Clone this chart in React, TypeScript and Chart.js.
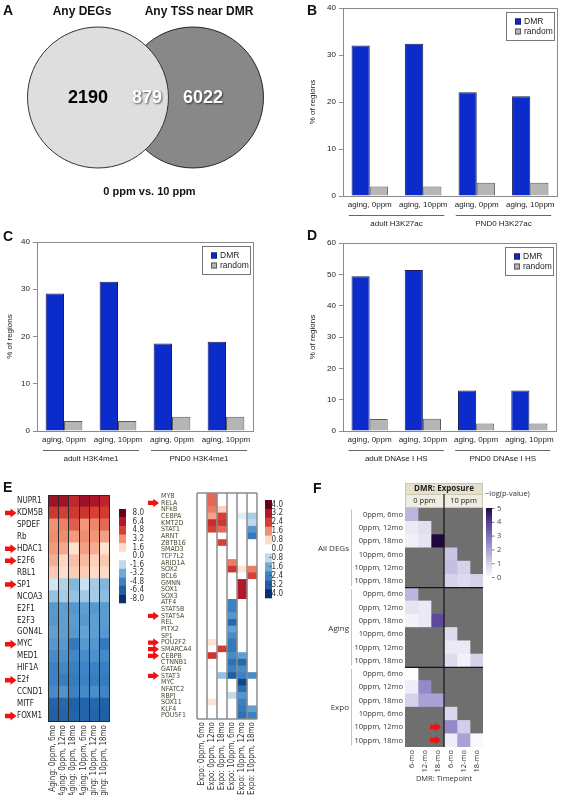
import React, { useEffect, useRef } from 'react';
import { Chart, registerables } from 'chart.js';

Chart.register(...registerables);

const SANS = "'Liberation Sans', Arial, sans-serif";
const NARROW = "'Liberation Sans Narrow', 'DejaVu Sans Condensed', 'Liberation Sans', sans-serif";
const UI = "'Open Sans', 'Noto Sans', sans-serif";

// ---------------- Panel A (Venn) ----------------
const vennSetNames = ['Any DEGs', 'Any TSS near DMR'];
const vennCounts = [2190, 879, 6022];
const vennCaption = '0 ppm vs. 10 ppm';

// ---------------- Panels B-D (bars) ----------------
const barCategories = ['aging, 0ppm', 'aging, 10ppm', 'aging, 0ppm', 'aging, 10ppm'];
const barSeries = ['DMR', 'random'];
const yAxisTitle = '% of regions';

const h3k27acGroups = ['adult H3K27ac', 'PND0 H3K27ac'];
const h3k27acDMR = [32.0, 32.4, 22.1, 21.2];
const h3k27acRandom = [2.0, 2.0, 2.8, 2.8];
const h3k27acTicks = [0, 10, 20, 30, 40];

const h3k4me1Groups = ['adult H3K4me1', 'PND0 H3K4me1'];
const h3k4me1DMR = [29.1, 31.6, 18.5, 18.9];
const h3k4me1Random = [2.1, 2.1, 3.0, 3.0];
const h3k4me1Ticks = [0, 10, 20, 30, 40];

const dnaseGroups = ['adult DNAse I HS', 'PND0 DNAse I HS'];
const dnaseDMR = [49.4, 51.4, 12.9, 12.9];
const dnaseRandom = [3.8, 3.9, 2.4, 2.4];
const dnaseTicks = [0, 10, 20, 30, 40, 50, 60];

// ---------------- Panel E (left heatmap) ----------------
const agingGenes = ['NUPR1', 'KDM5B', 'SPDEF', 'Rb', 'HDAC1', 'E2F6', 'RBL1', 'SP1', 'NCOA3', 'E2F1', 'E2F3', 'GON4L', 'MYC', 'MED1', 'HIF1A', 'E2f', 'CCND1', 'MITF', 'FOXM1'];
const agingCols = ['Aging: 0ppm, 6mo', 'Aging: 0ppm, 12mo', 'Aging: 0ppm, 18mo', 'Aging: 10ppm, 6mo', 'Aging: 10ppm, 12mo', 'Aging: 10ppm, 18mo'];
const agingValues = [
  [6.8, 6.8, 5.8, 6.9, 6.6, 5.9],
  [5.2, 4.9, 5.1, 5.3, 4.8, 5.0],
  [3.2, 3.5, 4.2, 3.1, 3.4, 4.0],
  [3.3, 3.3, 3.0, 3.3, 3.1, 2.9],
  [3.0, 2.7, 1.4, 2.9, 2.6, 1.3],
  [2.6, 1.7, 2.2, 2.3, 1.8, 2.0],
  [2.0, 1.5, 1.9, 1.9, 1.6, 1.6],
  [-1.1, -1.9, -2.8, -1.3, -2.1, -2.8],
  [-2.4, -2.1, -2.4, -2.2, -2.1, -2.6],
  [-3.9, -3.7, -4.0, -3.7, -3.9, -3.8],
  [-3.9, -3.7, -3.8, -3.9, -3.7, -3.8],
  [-3.6, -3.7, -3.9, -3.5, -3.7, -3.9],
  [-3.9, -3.9, -5.2, -3.9, -4.0, -5.2],
  [-4.4, -4.2, -4.6, -4.4, -4.2, -4.5],
  [-4.8, -4.6, -4.9, -4.7, -4.8, -4.9],
  [-4.8, -5.0, -5.1, -4.8, -5.0, -5.1],
  [-4.4, -4.1, -4.8, -4.5, -4.3, -4.7],
  [-6.2, -6.0, -6.3, -6.2, -6.0, -6.3],
  [-6.4, -6.2, -6.2, -6.2, -6.2, -6.4],
];
const agingArrowGenes = ['KDM5B', 'HDAC1', 'E2F6', 'SP1', 'MYC', 'E2f', 'FOXM1'];
const agingScaleTicks = [8.0, 6.4, 4.8, 3.2, 1.6, 0.0, -1.6, -3.2, -4.8, -6.4, -8.0];

// ---------------- Panel E (middle heatmap) ----------------
const expoGenes = ['MYB', 'RELA', 'NFkB', 'CEBPA', 'KMT2D', 'STAT1', 'ARNT', 'ZBTB16', 'SMAD3', 'TCF7L2', 'ARID1A', 'SOX2', 'BCL6', 'GMNN', 'SOX1', 'SOX3', 'ATF4', 'STAT5B', 'STAT5A', 'REL', 'PITX2', 'SP1', 'POU2F2', 'SMARCA4', 'CEBPB', 'CTNNB1', 'GATA6', 'STAT3', 'MYC', 'NFATC2', 'RBPJ', 'SOX11', 'KLF4', 'POU5F1'];
const expoCols = ['Expo: 0ppm, 6mo', 'Expo: 0ppm, 12mo', 'Expo: 0ppm, 18mo', 'Expo: 10ppm, 6mo', 'Expo: 10ppm, 12mo', 'Expo: 10ppm, 18mo'];
const expoValues = [
  [0, 2.0, 0, 0, 0, 0],
  [0, 2.0, 0, 0, 0, 0],
  [0, 1.8, 0.9, 0, 0, 0],
  [0, 1.4, 2.4, 0, -0.4, -1.0],
  [0, 2.8, 2.6, 0, 0, -0.8],
  [0, 2.4, 2.0, 0, 0, -2.0],
  [0, 0, 0, 0, 0, -2.6],
  [0, 0, 2.4, 0, 0, 0],
  [0, 0, 0, 0, 0, 0],
  [0, 0, 0, 0, 0, 0],
  [0, 0, 0, 1.8, 0, 0],
  [0, 0, 0, 2.6, 0.6, 1.8],
  [0, 0, 0, 0, 0, 2.4],
  [0, 0, 0, 0, 3.2, 0],
  [0, 0, 0, 0, 3.2, 0],
  [0, 0, 0, 0, 3.2, 0],
  [0, 0, 0, -2.4, 0, 0],
  [0, 0, 0, -2.4, 0, 0],
  [0, 0, 0, -2.0, 0, 0],
  [0, 0, 0, -3.0, 0, 0],
  [0, 0, 0, -1.8, 0, 0],
  [0, 0, 0, -2.2, 0, 0],
  [0, 0.6, 0, -2.6, 0, 0],
  [0, 0, 2.5, -2.6, 0, 0],
  [0, 2.6, 0, -2.2, -1.8, 0],
  [0, 0, 0, -2.8, -3.0, 0],
  [0, 0, 0, -2.4, -2.2, 0],
  [0, 0, -1.2, -3.2, -2.4, -2.2],
  [0, 0, 0, 0, -3.6, 0],
  [0, 0, 0, 0, -2.8, 0],
  [0, 0, 0, -0.8, -2.0, 0],
  [0, 0.6, 0, 0, -2.4, 0],
  [0, 0, 0, 0, -2.6, -1.8],
  [0, 0, 0, 0, -2.8, -2.4],
];
const expoArrowGenes = ['RELA', 'STAT5A', 'POU2F2', 'SMARCA4', 'CEBPB', 'STAT3'];
const expoScaleTicks = [4.0, 3.2, 2.4, 1.6, 0.8, 0.0, -0.8, -1.6, -2.4, -3.2, -4.0];

// ---------------- Panel F ----------------
const fGroups = ['All DEGs', 'Aging', 'Expo'];
const fRowNames = ['0ppm, 6mo', '0ppm, 12mo', '0ppm, 18mo', '10ppm, 6mo', '10ppm, 12mo', '10ppm, 18mo'];
const fRows = [...fRowNames, ...fRowNames, ...fRowNames];
const fCols = ['6-mo', '12-mo', '18-mo', '6-mo', '12-mo', '18-mo'];
const fExposures = ['0 ppm', '10 ppm'];
const fHeader = 'DMR: Exposure';
const fXTitle = 'DMR: Timepoint';
const fLegendTitle = '\u2212log(p-value)';
const fScaleTicks = [5, 4, 3, 2, 1, 0];
const N = null;
const fValues = [
  [1.6, N, N, N, N, N],
  [0.5, 0.7, N, N, N, N],
  [0.35, 0.6, 5.0, N, N, N],
  [N, N, N, 1.3, N, N],
  [N, N, N, 1.4, 1.0, N],
  [N, N, N, 1.0, 0.8, 1.0],
  [1.6, N, N, N, N, N],
  [0.6, 0.5, N, N, N, N],
  [0.3, 0.5, 3.8, N, N, N],
  [N, N, N, 0.8, N, N],
  [N, N, N, 0.5, 0.5, N],
  [N, N, N, 0.8, 0.3, 1.0],
  [0.05, N, N, N, N, N],
  [0.4, 2.5, N, N, N, N],
  [1.0, 2.0, 2.0, N, N, N],
  [N, N, N, 0.9, N, N],
  [N, N, N, 2.5, 1.1, N],
  [N, N, N, 0.4, 2.0, 0.15],
];
const fArrowCells = [[16, 2], [17, 2]];

// ---------------- colour helpers ----------------
type RGB = number[];
const rgb = (c: RGB) => `rgb(${Math.round(c[0])},${Math.round(c[1])},${Math.round(c[2])})`;
function ramp(stops: [number, RGB][], v: number): string {
  if (v <= stops[0][0]) return rgb(stops[0][1]);
  for (let i = 1; i < stops.length; i++) {
    if (v <= stops[i][0]) {
      const [v0, c0] = stops[i - 1];
      const [v1, c1] = stops[i];
      const t = (v - v0) / (v1 - v0);
      return rgb(c0.map((c, k) => c + (c1[k] - c) * t));
    }
  }
  return rgb(stops[stops.length - 1][1]);
}
const RDBU: [number, RGB][] = [
  [-1, [8, 48, 107]], [-0.8, [30, 95, 165]], [-0.6, [58, 130, 195]], [-0.4, [110, 170, 214]],
  [-0.2, [190, 218, 235]], [0, [255, 255, 255]], [0.2, [253, 219, 199]], [0.4, [240, 145, 115]],
  [0.6, [214, 64, 52]], [0.8, [178, 24, 43]], [1, [103, 0, 31]],
];
const PURPLES: [number, RGB][] = [
  [0, [255, 255, 255]], [1, [214, 210, 234]], [2, [170, 162, 212]], [3, [128, 112, 186]], [4, [84, 62, 148]], [5, [32, 8, 62]],
];
const agingColor = (v: number) => ramp(RDBU, v / 8);
const expoColor = (v: number) => ramp(RDBU, v / 4);
const fColor = (v: number | null) => (v == null ? '#6f6f6f' : ramp(PURPLES, v));

const BLUE = '#0b2ccb';
const RGRAY = '#b5b5b5';

function drawArrow(ctx: CanvasRenderingContext2D, x: number, cy: number, w: number, h: number) {
  const bh = h * 0.5;
  const hx = x + w * 0.48;
  ctx.fillStyle = '#f01212';
  ctx.beginPath();
  ctx.moveTo(x, cy - bh / 2);
  ctx.lineTo(hx, cy - bh / 2);
  ctx.lineTo(hx, cy - h / 2);
  ctx.lineTo(x + w, cy);
  ctx.lineTo(hx, cy + h / 2);
  ctx.lineTo(hx, cy + bh / 2);
  ctx.lineTo(x, cy + bh / 2);
  ctx.closePath();
  ctx.fill();
}

function drawStepBar(ctx: CanvasRenderingContext2D, x: number, y: number, w: number, h: number, ticks: number[], color: (v: number) => string, labelX: number) {
  const n = ticks.length;
  const bh = h / n;
  ticks.forEach((t, i) => {
    ctx.fillStyle = color(t);
    ctx.fillRect(x, y + i * bh, w, bh + 0.3);
  });
  ctx.fillStyle = '#333';
  ctx.font = `8px ${NARROW}`;
  ctx.textAlign = 'right';
  ctx.textBaseline = 'middle';
  ticks.forEach((t, i) => ctx.fillText(t.toFixed(1), labelX, y + (i + 0.5) * bh));
}

// ---------------- generic canvas ----------------
function ChartBox({ left, top, w, h, make }: { left: number; top: number; w: number; h: number; make: () => any }) {
  const ref = useRef<HTMLCanvasElement | null>(null);
  useEffect(() => {
    if (!ref.current) return;
    const chart = new Chart(ref.current, make());
    return () => chart.destroy();
  }, []);
  return <canvas ref={ref} width={w} height={h} style={{ position: 'absolute', left, top, width: w, height: h }} />;
}

// ---------------- Venn ----------------
const VENN_OFF = 0.674;
function vennConfig() {
  const radius = (c: any) => {
    const s = c.chart.scales.x;
    return s ? Math.abs(s.getPixelForValue(1) - s.getPixelForValue(0)) : 70;
  };
  const blend = {
    id: 'blend',
    beforeDatasetDraw(chart: any, args: any) {
      if (args.index === 1) { chart.ctx.save(); chart.ctx.globalCompositeOperation = 'multiply'; }
    },
    afterDatasetDraw(chart: any, args: any) {
      if (args.index === 1) chart.ctx.restore();
    },
  };
  const text = {
    id: 'vennText',
    afterDraw(chart: any) {
      const { ctx, scales: { x, y } } = chart;
      const lx = x.getPixelForValue(-VENN_OFF);
      const rx = x.getPixelForValue(VENN_OFF);
      const cy = y.getPixelForValue(0);
      const topY = y.getPixelForValue(1);
      const botY = y.getPixelForValue(-1);
      ctx.save();
      ctx.textAlign = 'center';
      ctx.textBaseline = 'middle';
      ctx.fillStyle = '#111';
      ctx.font = `bold 12px ${SANS}`;
      ctx.fillText(vennSetNames[0], lx - 16, topY - 15.5);
      ctx.fillText(vennSetNames[1], rx + 6, topY - 15.5);
      ctx.font = `bold 11px ${SANS}`;
      ctx.fillText(vennCaption, (lx + rx) / 2 + 4, botY + 24);
      ctx.font = `bold 18px ${SANS}`;
      ctx.fillStyle = '#000';
      ctx.fillText(String(vennCounts[0]), lx - 10, cy + 1);
      ctx.shadowColor = 'rgba(0,0,0,0.6)';
      ctx.shadowBlur = 2;
      ctx.shadowOffsetX = 1;
      ctx.shadowOffsetY = 1;
      ctx.fillStyle = '#fff';
      ctx.fillText(String(vennCounts[1]), (lx + rx) / 2 + 1.5, cy + 1);
      ctx.fillText(String(vennCounts[2]), rx + 10, cy + 1);
      ctx.restore();
    },
  };
  return {
    type: 'scatter',
    data: {
      datasets: [
        { data: [{ x: -VENN_OFF, y: 0 }], pointRadius: radius, backgroundColor: '#dedede', borderColor: '#333', borderWidth: 1, clip: false },
        { data: [{ x: VENN_OFF, y: 0 }], pointRadius: radius, backgroundColor: '#888888', borderColor: '#333', borderWidth: 1, clip: false },
      ],
    },
    options: {
      responsive: false, animation: false, devicePixelRatio: 1,
      layout: { padding: 0 },
      plugins: { legend: { display: false }, tooltip: { enabled: false } },
      scales: {
        x: { display: false, min: -2.064, max: 1.979 },
        y: { display: false, min: -1.596, max: 1.383 },
      },
    },
    plugins: [blend, text],
  };
}

// ---------------- bar panels ----------------
function barDecor(groups: string[]) {
  return {
    id: 'barDecor',
    afterDraw(chart: any) {
      const { ctx, chartArea: a, scales: { x } } = chart;
      ctx.save();
      ctx.strokeStyle = '#8a8a8a';
      ctx.lineWidth = 1;
      ctx.strokeRect(Math.round(a.left) + 0.5, Math.round(a.top) + 0.5, Math.round(a.right - a.left), Math.round(a.bottom - a.top));
      // legend
      const bx = Math.round(a.right - 51), by = Math.round(a.top + 4);
      ctx.strokeStyle = '#777';
      ctx.strokeRect(bx + 0.5, by + 0.5, 48, 28);
      chart.data.datasets.forEach((ds: any, i: number) => {
        const cy = by + 9.5 + i * 10;
        ctx.fillStyle = ds.backgroundColor;
        ctx.fillRect(bx + 9, cy - 3, 6, 6);
        ctx.strokeStyle = ds.borderColor;
        ctx.strokeRect(bx + 9.5, cy - 2.5, 5, 5);
        ctx.fillStyle = '#222';
        ctx.font = `8.5px ${SANS}`;
        ctx.textAlign = 'left';
        ctx.textBaseline = 'middle';
        ctx.fillText(ds.label, bx + 18, cy);
      });
      // groups
      groups.forEach((g, gi) => {
        const x0 = x.getPixelForValue(gi * 2) - 21;
        const x1 = x.getPixelForValue(gi * 2 + 1) + 21;
        const ly = Math.round(a.bottom + 19) + 0.5;
        ctx.strokeStyle = '#666';
        ctx.beginPath();
        ctx.moveTo(x0, ly);
        ctx.lineTo(x1, ly);
        ctx.stroke();
        ctx.fillStyle = '#222';
        ctx.font = `8px ${SANS}`;
        ctx.textAlign = 'center';
        ctx.textBaseline = 'middle';
        ctx.fillText(g, (x0 + x1) / 2, a.bottom + 28);
      });
      ctx.restore();
    },
  };
}

function barConfig(dmr: number[], rnd: number[], groups: string[], ticks: number[], pad: any, yW: number, xH: number) {
  const font = { family: SANS, size: 8 };
  const common = { borderWidth: 1, borderSkipped: 'bottom', categoryPercentage: 0.68, barPercentage: 1 };
  return {
    type: 'bar',
    data: {
      labels: barCategories,
      datasets: [
        { label: barSeries[0], data: dmr, backgroundColor: BLUE, borderColor: '#1c1c5a', ...common },
        { label: barSeries[1], data: rnd, backgroundColor: RGRAY, borderColor: '#5c5c5c', ...common },
      ],
    },
    options: {
      responsive: false, animation: false, devicePixelRatio: 1,
      layout: { padding: pad },
      plugins: { legend: { display: false }, tooltip: { enabled: false } },
      scales: {
        x: {
          grid: { display: false, drawTicks: false },
          border: { display: false },
          ticks: { font, color: '#222', padding: 4, maxRotation: 0, minRotation: 0, autoSkip: false },
          afterFit: (s: any) => { s.height = xH; },
        },
        y: {
          min: 0,
          max: ticks[ticks.length - 1],
          afterBuildTicks: (s: any) => { s.ticks = ticks.map((v) => ({ value: v })); },
          grid: { drawOnChartArea: false, drawTicks: true, tickLength: 4, color: '#8a8a8a' },
          border: { display: false },
          ticks: { font, color: '#222', padding: 3 },
          title: { display: true, text: yAxisTitle, font, color: '#222', padding: { top: 0, bottom: 0 } },
          afterFit: (s: any) => { s.width = yW; },
        },
      },
    },
    plugins: [barDecor(groups)],
  };
}

// ---------------- heatmaps ----------------
function heatConfig(o: any) {
  const datasets = o.cols.map((c: string, ci: number) => ({
    label: c,
    data: o.rows.map(() => 1),
    backgroundColor: o.rows.map((_: string, ri: number) => o.color(o.values[ri][ci])),
    borderWidth: 0,
    barPercentage: 1,
    categoryPercentage: 1,
  }));
  return {
    type: 'bar',
    data: { labels: o.rows, datasets },
    options: {
      indexAxis: 'y',
      responsive: false, animation: false, devicePixelRatio: 1,
      layout: { padding: o.pad },
      plugins: { legend: { display: false }, tooltip: { enabled: false } },
      scales: {
        x: {
          type: 'linear', stacked: true, min: 0, max: o.cols.length,
          grid: { display: false, drawTicks: false },
          border: { display: false },
          afterBuildTicks: (s: any) => { s.ticks = o.cols.map((_: string, i: number) => ({ value: i + 0.5 })); },
          ticks: { autoSkip: false, minRotation: 90, maxRotation: 90, padding: 3, font: o.colFont, color: '#333', callback: (_v: any, i: number) => o.cols[i] },
          title: o.xTitle ? { display: true, text: o.xTitle, font: o.colFont, color: '#333', padding: { top: 2, bottom: 0 } } : { display: false },
          afterFit: (s: any) => { s.height = o.xH; },
        },
        y: {
          stacked: true,
          grid: { display: false, drawTicks: false },
          border: { display: false },
          ticks: { autoSkip: false, font: o.rowFont, color: o.rowColor, padding: 2, crossAlign: o.crossAlign },
          afterFit: (s: any) => { s.width = o.yW; },
        },
      },
    },
    plugins: [o.decor],
  };
}

const agingDecor = {
  id: 'agingDecor',
  afterDraw(chart: any) {
    const { ctx, chartArea: a, scales: { x, y } } = chart;
    ctx.save();
    ctx.strokeStyle = '#2a2a2a';
    ctx.lineWidth = 1;
    ctx.beginPath();
    for (let i = 0; i <= agingCols.length; i++) {
      const px = Math.round(x.getPixelForValue(i)) + 0.5;
      ctx.moveTo(px, a.top);
      ctx.lineTo(px, a.bottom);
    }
    ctx.moveTo(a.left, Math.round(a.top) + 0.5);
    ctx.lineTo(a.right, Math.round(a.top) + 0.5);
    ctx.moveTo(a.left, Math.round(a.bottom) - 0.5);
    ctx.lineTo(a.right, Math.round(a.bottom) - 0.5);
    ctx.stroke();
    agingArrowGenes.forEach((g) => drawArrow(ctx, y.left - 12, y.getPixelForValue(agingGenes.indexOf(g)), 11.5, 9));
    drawStepBar(ctx, a.right + 10, a.top + 14, 7, 94, agingScaleTicks, agingColor, a.right + 35);
    ctx.restore();
  },
};

const expoDecor = {
  id: 'expoDecor',
  afterDraw(chart: any) {
    const { ctx, chartArea: a, scales: { x, y } } = chart;
    ctx.save();
    ctx.strokeStyle = '#8c8c8c';
    ctx.lineWidth = 1.5;
    ctx.beginPath();
    for (let i = 0; i <= expoCols.length; i++) {
      const px = x.getPixelForValue(i);
      ctx.moveTo(px, a.top);
      ctx.lineTo(px, a.bottom);
    }
    ctx.moveTo(a.left, a.top);
    ctx.lineTo(a.right, a.top);
    ctx.moveTo(a.left, a.bottom);
    ctx.lineTo(a.right, a.bottom);
    ctx.stroke();
    expoArrowGenes.forEach((g) => drawArrow(ctx, y.left - 13, y.getPixelForValue(expoGenes.indexOf(g)), 11, 8.5));
    drawStepBar(ctx, a.right + 8, a.top + 7, 7, 98, expoScaleTicks, expoColor, a.right + 26);
    ctx.restore();
  },
};

const fDecor = {
  id: 'fDecor',
  afterDraw(chart: any) {
    const { ctx, chartArea: a, scales: { x, y } } = chart;
    const n = fRows.length;
    const edge = (i: number) => (i <= 0 ? a.top : i >= n ? a.bottom : (y.getPixelForValue(i - 1) + y.getPixelForValue(i)) / 2);
    const xMid = x.getPixelForValue(3);
    const w = a.right - a.left;
    ctx.save();
    // header
    ctx.fillStyle = '#e4e0cc';
    ctx.fillRect(a.left, a.top - 25, w, 11);
    ctx.fillStyle = '#efece1';
    ctx.fillRect(a.left, a.top - 14, w, 13);
    ctx.strokeStyle = '#cdc8b2';
    ctx.lineWidth = 1;
    ctx.strokeRect(a.left + 0.5, a.top - 24.5, w - 1, 11);
    ctx.strokeRect(a.left + 0.5, a.top - 13.5, w - 1, 13);
    ctx.fillStyle = '#222';
    ctx.textAlign = 'center';
    ctx.textBaseline = 'middle';
    ctx.font = `bold 8px ${UI}`;
    ctx.fillText(fHeader, (a.left + a.right) / 2, a.top - 19);
    ctx.font = `7.5px ${UI}`;
    ctx.fillText(fExposures[0], (a.left + xMid) / 2, a.top - 7.5);
    ctx.fillText(fExposures[1], (xMid + a.right) / 2, a.top - 7.5);
    // separators
    ctx.strokeStyle = '#151515';
    ctx.lineWidth = 1.2;
    ctx.beginPath();
    ctx.moveTo(xMid, a.top - 14);
    ctx.lineTo(xMid, a.bottom);
    [6, 12].forEach((r) => {
      ctx.moveTo(a.left, edge(r));
      ctx.lineTo(a.right, edge(r));
    });
    ctx.stroke();
    // groups
    fGroups.forEach((g, gi) => {
      const y0 = edge(gi * 6), y1 = edge(gi * 6 + 6);
      ctx.strokeStyle = '#c4c4c4';
      ctx.lineWidth = 1;
      ctx.beginPath();
      ctx.moveTo(y.left - 3.5, y0 + 1.5);
      ctx.lineTo(y.left - 3.5, y1 - 1.5);
      ctx.stroke();
      ctx.fillStyle = '#333';
      ctx.font = `8px ${UI}`;
      ctx.textAlign = 'right';
      ctx.textBaseline = 'middle';
      ctx.fillText(g, y.left - 6, (y0 + y1) / 2 + 1);
    });
    // arrows
    fArrowCells.forEach(([r, c]) => drawArrow(ctx, x.getPixelForValue(c) - 1, y.getPixelForValue(r), 11, 9));
    // colour bar
    const cbx = a.right + 3, cbt = a.top, cbh = 70;
    const grad = ctx.createLinearGradient(0, cbt, 0, cbt + cbh);
    fScaleTicks.forEach((t) => grad.addColorStop((5 - t) / 5, fColor(t)));
    ctx.fillStyle = grad;
    ctx.fillRect(cbx, cbt, 6, cbh);
    ctx.strokeStyle = '#777';
    ctx.fillStyle = '#444';
    ctx.font = `7.5px ${UI}`;
    ctx.textAlign = 'left';
    fScaleTicks.forEach((t) => {
      const ty = cbt + ((5 - t) / 5) * (cbh - 1) + 0.5;
      ctx.beginPath();
      ctx.moveTo(cbx + 6, ty);
      ctx.lineTo(cbx + 8.5, ty);
      ctx.stroke();
      ctx.fillText(String(t), a.right + 14, ty);
    });
    ctx.fillStyle = '#333';
    ctx.fillText(fLegendTitle, a.right + 2, a.top - 14);
    ctx.restore();
  },
};

function Letter({ ch, x, base }: { ch: string; x: number; base: number }) {
  return (
    <div style={{ position: 'absolute', left: x, top: base - 13, fontFamily: SANS, fontWeight: 'bold', fontSize: 14, lineHeight: '16px', color: '#111' }}>{ch}</div>
  );
}

export default function App() {
  return (
    <div style={{ position: 'absolute', left: 0, top: 0, width: 561, height: 795, background: '#fff', overflow: 'hidden' }}>
      <ChartBox left={0} top={0} w={285} h={210} make={vennConfig} />
      <ChartBox left={290} top={0} w={271} h={232}
        make={() => barConfig(h3k27acDMR, h3k27acRandom, h3k27acGroups, h3k27acTicks, { left: 18, right: 4, top: 8, bottom: 0 }, 35, 36)} />
      <ChartBox left={0} top={232} w={285} h={240}
        make={() => barConfig(h3k4me1DMR, h3k4me1Random, h3k4me1Groups, h3k4me1Ticks, { left: 5, right: 32, top: 10, bottom: 0 }, 32, 41)} />
      <ChartBox left={290} top={232} w={271} h={240}
        make={() => barConfig(dnaseDMR, dnaseRandom, dnaseGroups, dnaseTicks, { left: 18, right: 5, top: 11, bottom: 0 }, 35, 41)} />
      <ChartBox left={0} top={480} w={150} h={315}
        make={() => heatConfig({
          rows: agingGenes, cols: agingCols, values: agingValues, color: agingColor,
          pad: { left: 17, right: 41, top: 15, bottom: 0 }, yW: 31, xH: 73,
          rowFont: { family: NARROW, size: 8 }, rowColor: '#222', colFont: { family: NARROW, size: 8 },
          crossAlign: 'far', decor: agingDecor,
        })} />
      <ChartBox left={145} top={480} w={150} h={315}
        make={() => heatConfig({
          rows: expoGenes, cols: expoCols, values: expoValues, color: expoColor,
          pad: { left: 16, right: 38, top: 13, bottom: 0 }, yW: 36, xH: 76,
          rowFont: { family: NARROW, size: 7 }, rowColor: '#4a4832', colFont: { family: NARROW, size: 8 },
          crossAlign: 'far', decor: expoDecor,
        })} />
      <ChartBox left={300} top={480} w={261} h={315}
        make={() => heatConfig({
          rows: fRows, cols: fCols, values: fValues, color: fColor,
          pad: { left: 55, right: 78, top: 28, bottom: 12 }, yW: 50, xH: 36,
          rowFont: { family: UI, size: 7.5 }, rowColor: '#333', colFont: { family: UI, size: 7.5 },
          crossAlign: 'near', decor: fDecor, xTitle: fXTitle,
        })} />
      <Letter ch="A" x={3} base={15} />
      <Letter ch="B" x={307} base={15} />
      <Letter ch="C" x={3} base={241} />
      <Letter ch="D" x={307} base={240} />
      <Letter ch="E" x={3} base={492} />
      <Letter ch="F" x={313} base={493} />
    </div>
  );
}
